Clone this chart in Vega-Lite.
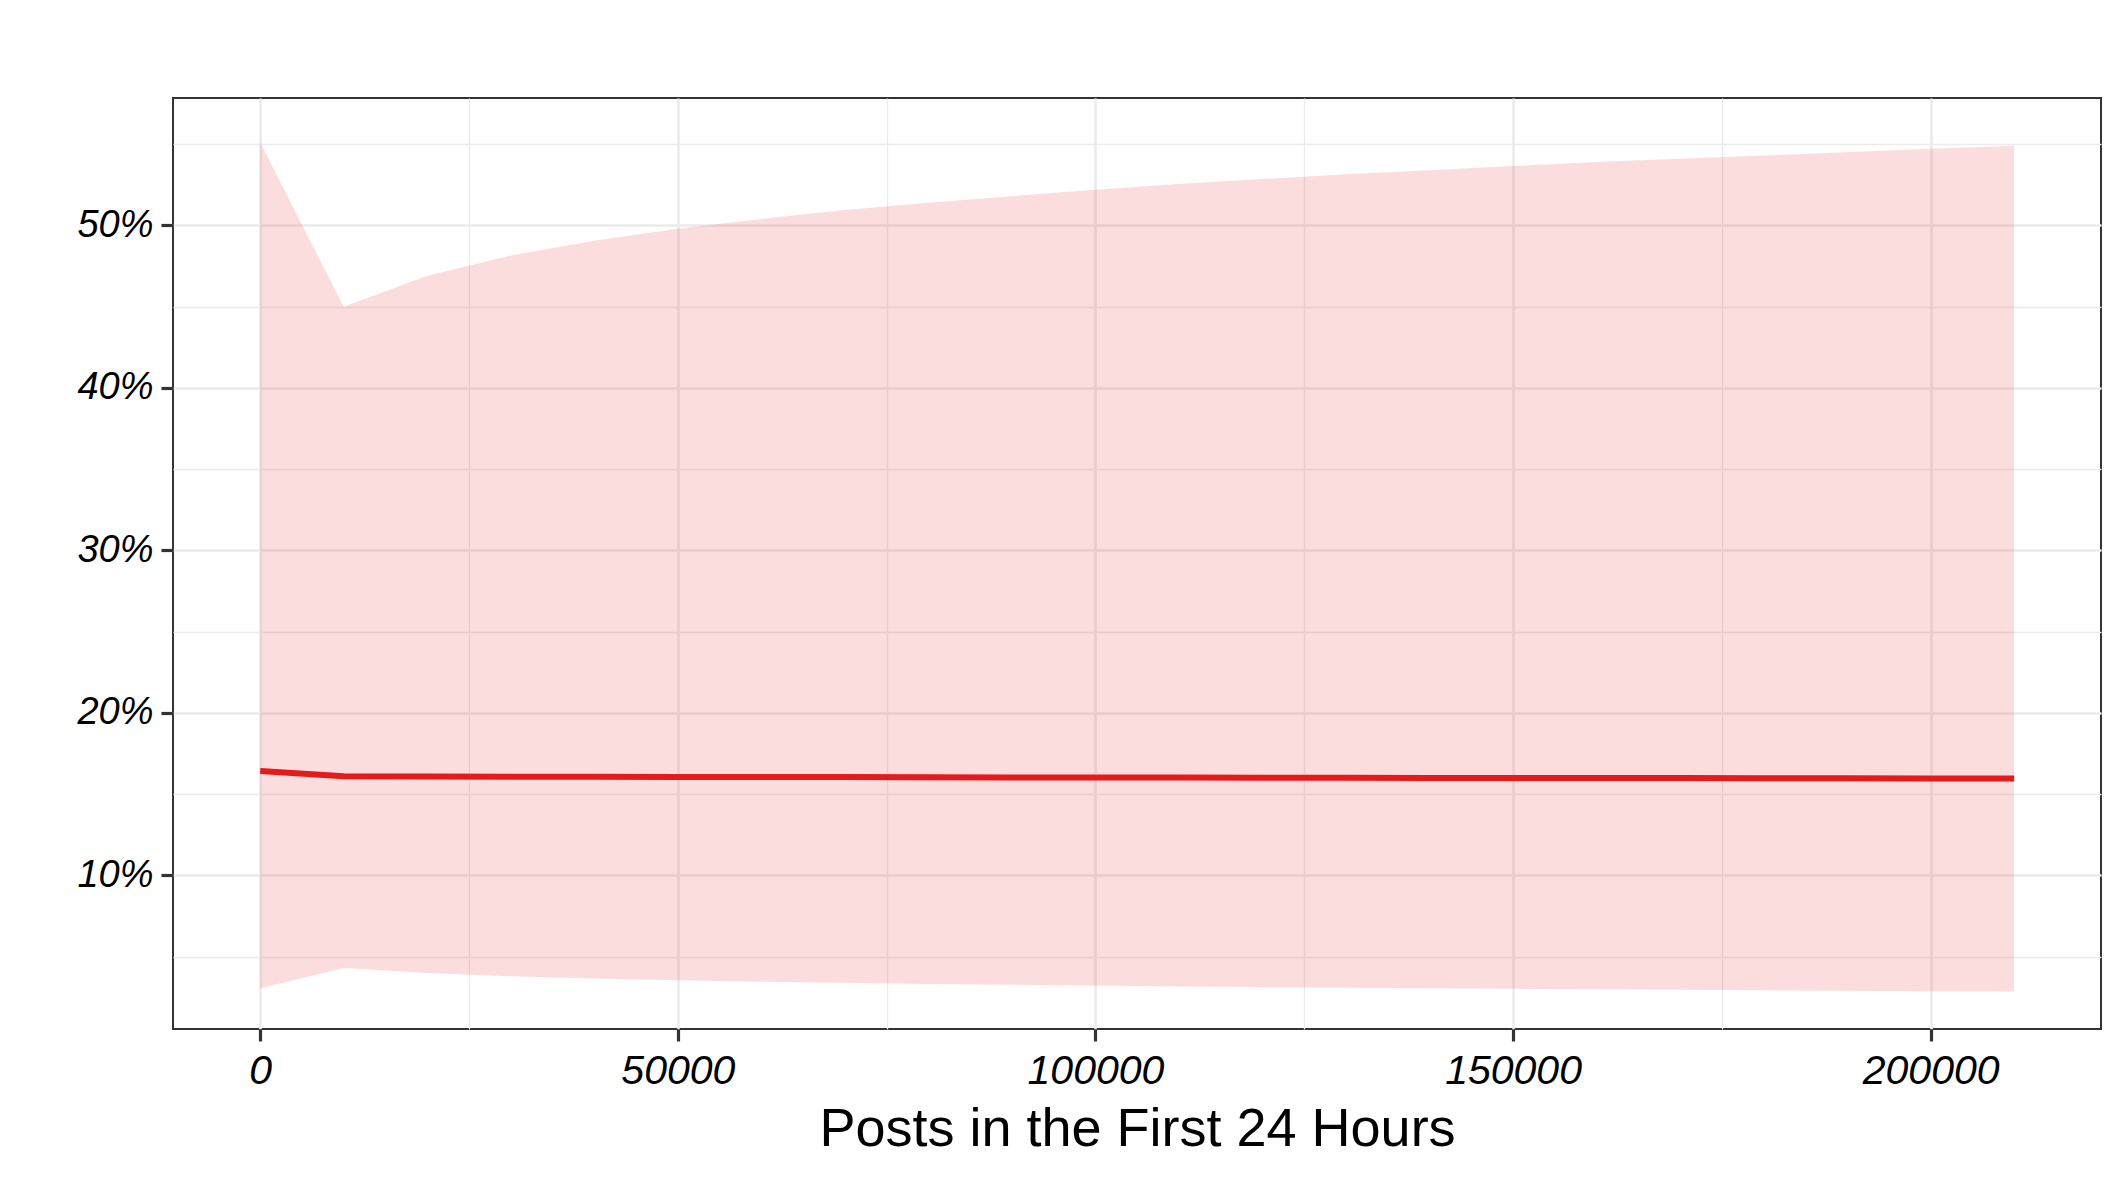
{
  "$schema": "https://vega.github.io/schema/vega-lite/v6.json",
  "autosize": {"type": "none"},
  "padding": {"left": 173, "top": 98, "right": 24, "bottom": 152},
  "width": 1928,
  "height": 931,
  "background": "white",
  "config": {
    "view": {"stroke": "#333333", "strokeWidth": 2},
    "font": "Liberation Sans"
  },
  "data": {
    "values": [
      {"x": 0, "fit": 0.1643, "lo": 0.0305, "hi": 0.551},
      {"x": 10000, "fit": 0.1611, "lo": 0.0430, "hi": 0.450},
      {"x": 20000, "fit": 0.1609, "lo": 0.0399, "hi": 0.469},
      {"x": 30000, "fit": 0.1608, "lo": 0.0380, "hi": 0.4815},
      {"x": 40000, "fit": 0.1607, "lo": 0.0366, "hi": 0.4905},
      {"x": 50000, "fit": 0.1606, "lo": 0.0355, "hi": 0.498},
      {"x": 60000, "fit": 0.1605, "lo": 0.0346, "hi": 0.504},
      {"x": 70000, "fit": 0.1605, "lo": 0.0339, "hi": 0.5095},
      {"x": 80000, "fit": 0.1604, "lo": 0.0332, "hi": 0.514},
      {"x": 90000, "fit": 0.1603, "lo": 0.0327, "hi": 0.518},
      {"x": 100000, "fit": 0.1603, "lo": 0.0322, "hi": 0.522},
      {"x": 110000, "fit": 0.1602, "lo": 0.0317, "hi": 0.5255},
      {"x": 120000, "fit": 0.1601, "lo": 0.0313, "hi": 0.5285},
      {"x": 130000, "fit": 0.1601, "lo": 0.0309, "hi": 0.5315},
      {"x": 140000, "fit": 0.1600, "lo": 0.0305, "hi": 0.534},
      {"x": 150000, "fit": 0.1600, "lo": 0.0302, "hi": 0.5365},
      {"x": 160000, "fit": 0.1599, "lo": 0.0299, "hi": 0.539},
      {"x": 170000, "fit": 0.1599, "lo": 0.0296, "hi": 0.541},
      {"x": 180000, "fit": 0.1598, "lo": 0.0293, "hi": 0.543},
      {"x": 190000, "fit": 0.1598, "lo": 0.0290, "hi": 0.545},
      {"x": 200000, "fit": 0.1597, "lo": 0.0288, "hi": 0.5472},
      {"x": 210000, "fit": 0.1597, "lo": 0.0286, "hi": 0.549}
    ]
  },
  "encoding": {
    "x": {
      "field": "x",
      "type": "quantitative",
      "scale": {"domain": [-10443, 220395], "nice": false, "zero": false},
      "axis": {
        "title": "Posts in the First 24 Hours",
        "values": [0, 25000, 50000, 75000, 100000, 125000, 150000, 175000, 200000],
        "labelExpr": "datum.value % 50000 == 0 ? format(datum.value, 'd') : ''",
        "domain": false,
        "grid": true,
        "gridColor": "#EBEBEB",
        "gridWidth": {"condition": {"test": "datum.value % 50000 == 0", "value": 2.6}, "value": 1.3},
        "ticks": true,
        "tickColor": "#333333",
        "tickSize": 12,
        "tickWidth": 3.2,
        "tickOpacity": {"condition": {"test": "datum.value % 50000 == 0", "value": 1}, "value": 0},
        "labelFont": "Liberation Sans",
        "labelFontStyle": "italic",
        "labelFontSize": 41,
        "labelColor": "#000000",
        "labelPadding": 10,
        "labelFlush": false,
        "labelOverlap": false,
        "titleFont": "Liberation Sans",
        "titleFontSize": 54,
        "titleFontWeight": "normal",
        "titleColor": "#000000",
        "titleBaseline": "alphabetic",
        "titleY": 116
      }
    }
  },
  "layer": [
    {
      "mark": {"type": "area", "color": "#E41A1C", "opacity": 0.15},
      "encoding": {
        "y": {
          "field": "hi",
          "type": "quantitative",
          "scale": {"domain": [0.0055, 0.5784], "nice": false, "zero": false},
          "axis": {
            "title": null,
            "values": [0.05, 0.1, 0.15, 0.2, 0.25, 0.3, 0.35, 0.4, 0.45, 0.5, 0.55],
            "labelExpr": "round(datum.value*100) % 10 == 0 ? format(datum.value, '.0%') : ''",
            "domain": false,
            "grid": true,
            "gridColor": "#EBEBEB",
            "gridWidth": {"condition": {"test": "round(datum.value*100) % 10 == 0", "value": 2.6}, "value": 1.3},
            "tickColor": "#333333",
            "tickSize": 12,
            "tickWidth": 3.2,
            "tickOpacity": {"condition": {"test": "round(datum.value*100) % 10 == 0", "value": 1}, "value": 0},
            "labelFont": "Liberation Sans",
            "labelFontStyle": "italic",
            "labelFontSize": 38,
            "labelColor": "#000000",
            "labelPadding": 8,
            "labelFlush": false,
            "labelOverlap": false
          }
        },
        "y2": {"field": "lo"}
      }
    },
    {
      "mark": {"type": "line", "color": "#E41A1C", "strokeWidth": 6},
      "encoding": {
        "y": {"field": "fit", "type": "quantitative"}
      }
    }
  ]
}
